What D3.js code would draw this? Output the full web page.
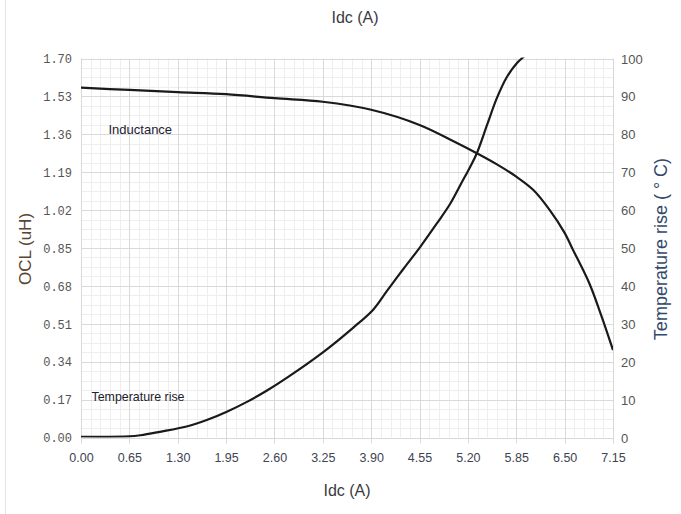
<!DOCTYPE html>
<html>
<head>
<meta charset="utf-8">
<script src="https://cdn.jsdelivr.net/npm/d3@7"></script>
<style>
  html, body { margin: 0; padding: 0; background: #fff; }
  svg { display: block; }
</style>
</head>
<body>
<script>
// ---- Data ----
const xTickValues = [0, 0.65, 1.30, 1.95, 2.60, 3.25, 3.90, 4.55, 5.20, 5.85, 6.50, 7.15];
const leftTickValues = [0, 0.17, 0.34, 0.51, 0.68, 0.85, 1.02, 1.19, 1.36, 1.53, 1.70];
const rightTickValues = [0, 10, 20, 30, 40, 50, 60, 70, 80, 90, 100];

const inductanceIdc = [0, 0.65, 1.30, 1.95, 2.60, 3.25, 3.90, 4.55, 5.00, 5.32, 5.59, 5.85, 6.08, 6.30, 6.50, 6.60, 6.83, 7.00, 7.15];
const inductanceOCL = [1.569, 1.559, 1.549, 1.540, 1.522, 1.506, 1.470, 1.402, 1.330, 1.275, 1.225, 1.170, 1.110, 1.020, 0.918, 0.850, 0.693, 0.540, 0.392];

const tempIdc  = [0, 0.65, 0.80, 1.06, 1.42, 1.69, 1.96, 2.23, 2.50, 2.77, 3.26, 3.66, 3.93, 4.11, 4.33, 4.56, 4.78, 4.96, 5.12, 5.23, 5.32, 5.46, 5.59, 5.72, 5.86, 5.96];
const tempRise = [0.2, 0.3, 0.6, 1.5, 2.9, 4.6, 6.8, 9.4, 12.4, 15.8, 22.6, 29.0, 33.8, 38.6, 44.4, 50.3, 56.4, 61.6, 67.4, 71.4, 75.0, 82.6, 89.6, 95.0, 98.8, 100.6];

const title = "Idc (A)";
const xTitle = "Idc (A)";
const yLeftTitle = "OCL (uH)";
const yRightTitle = "Temperature rise ( \u00B0 C)";
const inductanceLabel = "Inductance";
const tempLabel = "Temperature rise";

// ---- Layout ----
const W = 681, H = 514;
const plot = { left: 81, right: 613, top: 58.5, bottom: 437.5 };

const svg = d3.select("body").append("svg").attr("width", W).attr("height", H);

svg.append("line").attr("x1", 5.5).attr("x2", 5.5).attr("y1", 0).attr("y2", H)
  .attr("stroke", "#e3e3e3").attr("stroke-width", 1);

const x = d3.scaleLinear().domain([0, 7.15]).range([plot.left, plot.right]);
const yL = d3.scaleLinear().domain([0, 1.70]).range([plot.bottom, plot.top]);
const yR = d3.scaleLinear().domain([0, 100]).range([plot.bottom, plot.top]);

// minor grid
const minorX = [];
for (let i = 0; i < xTickValues.length - 1; i++) {
  for (let k = 1; k < 5; k++) minorX.push(xTickValues[i] + (xTickValues[i + 1] - xTickValues[i]) * k / 5);
}
const minorY = [];
for (let i = 0; i < leftTickValues.length - 1; i++) {
  for (let k = 1; k < 4; k++) minorY.push(leftTickValues[i] + (leftTickValues[i + 1] - leftTickValues[i]) * k / 4);
}
const grid = svg.append("g");
grid.selectAll("line.mx").data(minorX).join("line")
  .attr("x1", d => Math.round(x(d)) + 0.5).attr("x2", d => Math.round(x(d)) + 0.5)
  .attr("y1", plot.top).attr("y2", plot.bottom)
  .attr("stroke", "#eeeeee").attr("stroke-width", 1);
grid.selectAll("line.my").data(minorY).join("line")
  .attr("y1", d => Math.round(yL(d)) + 0.5).attr("y2", d => Math.round(yL(d)) + 0.5)
  .attr("x1", plot.left).attr("x2", plot.right)
  .attr("stroke", "#eeeeee").attr("stroke-width", 1);
// major grid
grid.selectAll("line.Mx").data(xTickValues).join("line")
  .attr("x1", d => Math.round(x(d)) + 0.5).attr("x2", d => Math.round(x(d)) + 0.5)
  .attr("y1", plot.top).attr("y2", plot.bottom + 6)
  .attr("stroke", "#d9d9d9").attr("stroke-width", 1);
grid.selectAll("line.My").data(leftTickValues).join("line")
  .attr("y1", d => Math.round(yL(d)) + 0.5).attr("y2", d => Math.round(yL(d)) + 0.5)
  .attr("x1", plot.left).attr("x2", plot.right)
  .attr("stroke", "#d9d9d9").attr("stroke-width", 1);

// axes (labels only, via d3 axes)
const axisB = d3.axisBottom(x).tickValues(xTickValues).tickFormat(d3.format(".2f")).tickSize(0).tickPadding(0);
const gB = svg.append("g").attr("transform", `translate(0,${plot.bottom + 16})`).call(axisB);
gB.select(".domain").remove();
gB.selectAll("text").attr("font-family", "'Liberation Sans', Arial, sans-serif").attr("font-size", 12.5)
  .attr("fill", "#3d4452").attr("dy", "0.71em");

const axisL = d3.axisLeft(yL).tickValues(leftTickValues).tickFormat(d3.format(".2f")).tickSize(0).tickPadding(0);
const gL = svg.append("g").attr("transform", `translate(${plot.left - 9},0)`).call(axisL);
gL.select(".domain").remove();
gL.selectAll("text").attr("font-family", "'Liberation Mono', 'DejaVu Sans Mono', monospace").attr("font-size", 12)
  .attr("fill", "#555").attr("dy", "0.35em");

const axisR = d3.axisRight(yR).tickValues(rightTickValues).tickFormat(d3.format("d")).tickSize(0).tickPadding(0);
const gR = svg.append("g").attr("transform", `translate(${plot.right + 8},0)`).call(axisR);
gR.select(".domain").remove();
gR.selectAll("text").attr("font-family", "'Liberation Sans', Arial, sans-serif").attr("font-size", 13)
  .attr("fill", "#555").attr("dy", "0.35em");

// clip
svg.append("clipPath").attr("id", "clip").append("rect")
  .attr("x", plot.left).attr("y", plot.top - 1).attr("width", plot.right - plot.left).attr("height", plot.bottom - plot.top + 1);

const indData = inductanceIdc.map((d, i) => [d, inductanceOCL[i]]);
const tData = tempIdc.map((d, i) => [d, tempRise[i]]);

const lineL = d3.line().x(d => x(d[0])).y(d => yL(d[1])).curve(d3.curveCatmullRom.alpha(0.5));
const lineR = d3.line().x(d => x(d[0])).y(d => yR(d[1])).curve(d3.curveCatmullRom.alpha(0.5));

const lines = svg.append("g").attr("clip-path", "url(#clip)");
lines.append("path").datum(indData).attr("d", lineL)
  .attr("fill", "none").attr("stroke", "#1a1a1a").attr("stroke-width", 2.2);
lines.append("path").datum(tData).attr("d", lineR)
  .attr("fill", "none").attr("stroke", "#1a1a1a").attr("stroke-width", 2.2);

// annotations
svg.append("text").attr("x", 108.5).attr("y", 134).text(inductanceLabel)
  .attr("font-family", "'Liberation Sans', Arial, sans-serif").attr("font-size", 13)
  .attr("fill", "#1e2030");
svg.append("text").attr("x", 91.5).attr("y", 401).text(tempLabel)
  .attr("font-family", "'Liberation Sans', Arial, sans-serif").attr("font-size", 12.4)
  .attr("fill", "#1e2030");

// titles
svg.append("text").attr("x", 355).attr("y", 23).attr("text-anchor", "middle").text(title)
  .attr("font-family", "'Liberation Sans', Arial, sans-serif").attr("font-size", 16).attr("fill", "#3a3a40");
svg.append("text").attr("x", (plot.left + plot.right) / 2).attr("y", 496).attr("text-anchor", "middle").text(xTitle)
  .attr("font-family", "'Liberation Sans', Arial, sans-serif").attr("font-size", 16).attr("fill", "#3a3a40");
svg.append("text").attr("transform", "translate(31,249) rotate(-90)").attr("text-anchor", "middle").text(yLeftTitle)
  .attr("font-family", "'Liberation Sans', Arial, sans-serif").attr("font-size", 17).attr("fill", "#5a4632");
svg.append("text").attr("transform", "translate(667,249) rotate(-90)").attr("text-anchor", "middle").text(yRightTitle)
  .attr("font-family", "'Liberation Sans', Arial, sans-serif").attr("font-size", 18).attr("fill", "#33496a");
</script>
</body>
</html>
